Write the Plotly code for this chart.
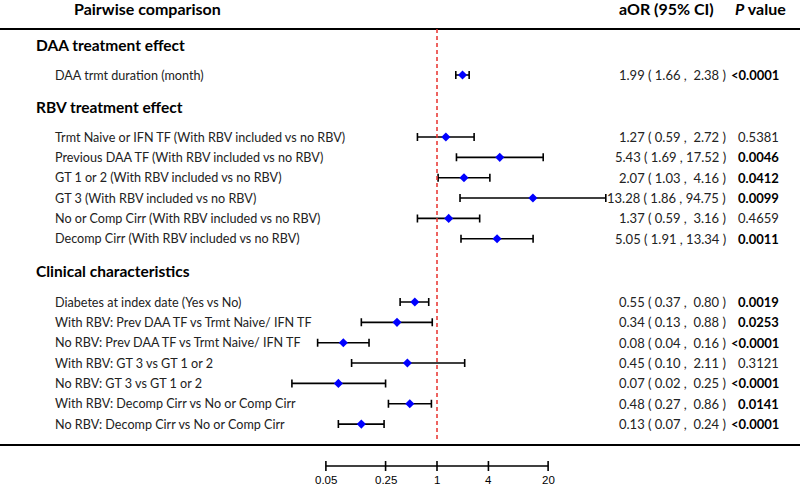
import math
import plotly.graph_objects as go

# ---------------- data ----------------
sections = ["DAA treatment effect", "RBV treatment effect", "Clinical characteristics"]

daa_labels = ["DAA trmt duration (month)"]
daa_or = [1.99]
daa_lo = [1.66]
daa_hi = [2.38]
daa_p = ["<0.0001"]

rbv_labels = [
    "Trmt Naive or IFN TF (With RBV included vs no RBV)",
    "Previous DAA TF (With RBV included vs no RBV)",
    "GT 1 or 2 (With RBV included vs no RBV)",
    "GT 3 (With RBV included vs no RBV)",
    "No or Comp Cirr (With RBV included vs no RBV)",
    "Decomp Cirr (With RBV included vs no RBV)",
]
rbv_or = [1.27, 5.43, 2.07, 13.28, 1.37, 5.05]
rbv_lo = [0.59, 1.69, 1.03, 1.86, 0.59, 1.91]
rbv_hi = [2.72, 17.52, 4.16, 94.75, 3.16, 13.34]
rbv_p = ["0.5381", "0.0046", "0.0412", "0.0099", "0.4659", "0.0011"]

clin_labels = [
    "Diabetes at index date (Yes vs No)",
    "With RBV: Prev DAA TF vs Trmt Naive/ IFN TF",
    "No RBV: Prev DAA TF vs Trmt Naive/ IFN TF",
    "With RBV: GT 3 vs GT 1 or 2",
    "No RBV: GT 3 vs GT 1 or 2",
    "With RBV: Decomp Cirr vs No or Comp Cirr",
    "No RBV: Decomp Cirr vs No or Comp Cirr",
]
clin_or = [0.55, 0.34, 0.08, 0.45, 0.07, 0.48, 0.13]
clin_lo = [0.37, 0.13, 0.04, 0.10, 0.02, 0.27, 0.07]
clin_hi = [0.80, 0.88, 0.16, 2.11, 0.25, 0.86, 0.24]
clin_p = ["0.0019", "0.0253", "<0.0001", "0.3121", "<0.0001", "0.0141", "<0.0001"]

tick_vals = [0.05, 0.25, 1, 4, 20]
tick_text = ["0.05", "0.25", "1", "4", "20"]

# ---------------- layout helpers (pixel rows) ----------------
W, H = 800, 486
ROW = 20.35
section_y = [45, 107, 271]
first_row_y = [75, 137, 302]

groups = [
    (daa_labels, daa_or, daa_lo, daa_hi, daa_p),
    (rbv_labels, rbv_or, rbv_lo, rbv_hi, rbv_p),
    (clin_labels, clin_or, clin_lo, clin_hi, clin_p),
]

labels, ors, los, his, ps, ys = [], [], [], [], [], []
for g, y0 in zip(groups, first_row_y):
    for i in range(len(g[0])):
        labels.append(g[0][i]); ors.append(g[1][i]); los.append(g[2][i])
        his.append(g[3][i]); ps.append(g[4][i]); ys.append(y0 + i * ROW)

FONT = "Lato"
NB = "\u00a0"

def pad(v):
    s = f"{v:.2f}"
    return (NB * 2 + s) if v < 10 else (NB + s)

fig = go.Figure()
fig.add_trace(go.Scatter(
    x=ors, y=ys, mode="markers",
    marker=dict(symbol="diamond", size=7, color="#0000ff"),
    error_x=dict(type="data", symmetric=False,
                 array=[h - o for h, o in zip(his, ors)],
                 arrayminus=[o - l for o, l in zip(ors, los)],
                 color="black", thickness=1.6, width=4),
    showlegend=False, hoverinfo="skip",
))

ann = []
def px(x):
    return x / W

# headers
ann.append(dict(x=px(147), y=8, text="<b>Pairwise comparison</b>", xanchor="center",
                font=dict(size=16, family=FONT, color="black")))
ann.append(dict(x=px(716), y=8, text="<b>aOR (95% CI)</b>", xanchor="right",
                font=dict(size=16, family=FONT, color="black")))
ann.append(dict(x=px(788), y=8, text="<b><i>P</i> value</b>", xanchor="right",
                font=dict(size=16, family=FONT, color="black")))

for s, y in zip(sections, section_y):
    ann.append(dict(x=px(34), y=y, text=f"<b>{s}</b>", xanchor="left",
                    font=dict(size=15.5, family=FONT, color="black")))

for lab, o, l, h, p, y in zip(labels, ors, los, his, ps, ys):
    ann.append(dict(x=px(53), y=y, text=lab, xanchor="left",
                    font=dict(size=12.6, family=FONT, color="#222")))
    ann.append(dict(x=px(728), y=y,
                    text=f"{o:.2f} ( {l:.2f} ,{pad(h)} )", xanchor="right",
                    font=dict(size=13, family=FONT, color="#222")))
    sig = not (p.startswith("0.") and float(p) >= 0.05)
    ann.append(dict(x=px(781), y=y, text=f"<b>{p}</b>" if sig else p, xanchor="right",
                    font=dict(size=13, family=FONT, color="black" if sig else "#222")))

# annotations on a log axis take log10 positions
for tv, tt in zip(tick_vals, tick_text):
    ann.append(dict(x=math.log10(tv), xref="x", y=480, text=tt, xanchor="center",
                    font=dict(size=11.5, family="Liberation Sans", color="black")))

for a in ann:
    a.setdefault("xref", "paper")
    a["yref"] = "y"
    a["yanchor"] = "middle"
    a["showarrow"] = False

shapes = [
    dict(type="line", xref="paper", yref="y", x0=0, x1=1, y0=29, y1=29,
         line=dict(color="black", width=2)),
    dict(type="line", xref="paper", yref="y", x0=0, x1=1, y0=445, y1=445,
         line=dict(color="black", width=2)),
    dict(type="line", xref="x", yref="y", x0=1, x1=1, y0=29, y1=441,
         line=dict(color="#e8302c", width=1.5, dash="4px,3px")),
    dict(type="line", xref="x", yref="y", x0=tick_vals[0], x1=tick_vals[-1], y0=466, y1=466,
         line=dict(color="black", width=1.6)),
]
for tv in tick_vals:
    shapes.append(dict(type="line", xref="x", yref="y", x0=tv, x1=tv, y0=461, y1=471,
                       line=dict(color="black", width=1.6)))

L = -437 / 85.4
R = (800 - 437) / 85.4
fig.update_layout(
    width=W, height=H, margin=dict(l=0, r=0, t=0, b=0),
    paper_bgcolor="white", plot_bgcolor="white",
    xaxis=dict(type="log", range=[L, R], visible=False, fixedrange=True),
    yaxis=dict(range=[H, 0], visible=False, fixedrange=True),
    annotations=ann, shapes=shapes, showlegend=False,
)
fig.write_html("out.html", config={"displayModeBar": False},
               post_script="document.body.style.margin='0';document.body.style.overflow='hidden';")
